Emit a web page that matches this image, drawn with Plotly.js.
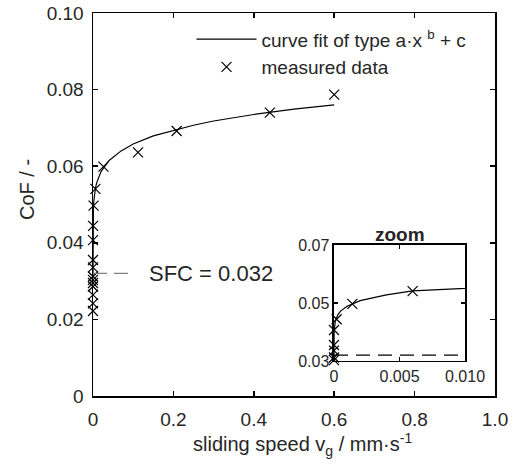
<!DOCTYPE html>
<html><head><meta charset="utf-8">
<script src="https://cdn.plot.ly/plotly-3.0.1.min.js"></script>
<style>html,body{margin:0;padding:0;background:#fff}#chart{width:515px;height:471px}</style>
</head><body><div id="chart"></div><script>
// measured data (sliding speed in mm/s, CoF)
const measX = [0, 0, 0, 0, 0, 0, 0, 0, 0, 0, 0.0002, 0.0014, 0.006, 0.026, 0.112, 0.208, 0.44, 0.60];
const measY = [0.0222, 0.0242, 0.0264, 0.0286, 0.0295, 0.0303, 0.0312, 0.0336, 0.0355, 0.0407, 0.0444, 0.0497, 0.0541, 0.0599, 0.0636, 0.0692, 0.0740, 0.0787];
// curve fit
const fitX = [0, 0.00001, 0.0001, 0.0003, 0.0005, 0.001, 0.002, 0.003, 0.004, 0.006, 0.008, 0.01, 0.02, 0.04, 0.07, 0.1, 0.15, 0.2, 0.25, 0.3, 0.4, 0.5, 0.6];
const fitY = [0.0311, 0.0402, 0.0438, 0.0460, 0.0472, 0.0489, 0.0508, 0.0519, 0.0528, 0.0542, 0.0551, 0.0559, 0.0586, 0.0615, 0.0640, 0.0658, 0.0679, 0.0694, 0.0707, 0.0718, 0.0735, 0.0749, 0.0760];
// static friction coefficient
const sfcValue = 0.032;
const sfcMainX = [0, 0.1];
const sfcZoomX = [0, 0.01];
// ticks
const xTickVals = [0, 0.2, 0.4, 0.6, 0.8, 1.0];
const xTickText = ['0', '0.2', '0.4', '0.6', '0.8', '1.0'];
const yTickVals = [0, 0.02, 0.04, 0.06, 0.08, 0.10];
const yTickText = ['0', '0.02', '0.04', '0.06', '0.08', '0.10'];
const zxTickVals = [0, 0.005, 0.010];
const zxTickText = ['0', '0.005', '0.010'];
const zyTickVals = [0.03, 0.05, 0.07];
const zyTickText = ['0.03', '0.05', '0.07'];

const zoomMax = 0.01;
const zIdx = measX.map((v, i) => i).filter(i => measX[i] <= zoomMax);
const zMeasX = zIdx.map(i => measX[i]);
const zMeasY = zIdx.map(i => measY[i]);

const txt = '#262626';
const FONT = 'Liberation Sans, Arial, sans-serif';
const marker = {symbol: 'x-thin-open', size: 10, color: '#000', line: {color: '#000', width: 1.2}};

const traces = [
  {x: fitX, y: fitY, mode: 'lines', name: 'curve fit of type a·x <sup>b</sup> + c', line: {color: '#000', width: 1.2}, xaxis: 'x', yaxis: 'y'},
  {x: measX, y: measY, mode: 'markers', name: 'measured data', marker: marker, cliponaxis: false, xaxis: 'x', yaxis: 'y'},
  {x: sfcMainX, y: [sfcValue, sfcValue], mode: 'lines', showlegend: false, line: {color: '#808080', width: 1.2, dash: '14px,7px'}, xaxis: 'x', yaxis: 'y'},
  {x: fitX, y: fitY, mode: 'lines', showlegend: false, line: {color: '#000', width: 1.2}, xaxis: 'x2', yaxis: 'y2'},
  {x: zMeasX, y: zMeasY, mode: 'markers', showlegend: false, marker: marker, cliponaxis: false, xaxis: 'x2', yaxis: 'y2'},
  {x: sfcZoomX, y: [sfcValue, sfcValue], mode: 'lines', showlegend: false, line: {color: '#000', width: 1.2, dash: '14px,8px'}, xaxis: 'x2', yaxis: 'y2'}
];

const axBase = {showline: true, mirror: 'ticks', linecolor: '#000', linewidth: 1.5, ticks: 'inside', tickcolor: '#000', tickwidth: 1.5, showgrid: false, zeroline: false, fixedrange: true};

const layout = {
  width: 515, height: 471,
  margin: {l: 93, r: 20, t: 13, b: 75},
  paper_bgcolor: '#fff', plot_bgcolor: '#fff',
  font: {family: FONT, color: txt, size: 19},
  showlegend: true,
  legend: {x: 0.245, y: 0.981, xanchor: 'left', yanchor: 'top', bgcolor: 'rgba(0,0,0,0)', borderwidth: 0, font: {size: 19, color: txt}, itemwidth: 60, tracegroupgap: 0},
  xaxis: Object.assign({}, axBase, {domain: [0, 1], range: [0, 1.0], tickvals: xTickVals, ticktext: xTickText, ticklen: 5, tickfont: {size: 19, color: txt}, ticklabelstandoff: 6, anchor: 'y'}),
  yaxis: Object.assign({}, axBase, {domain: [0, 1], range: [0, 0.10], tickvals: yTickVals, ticktext: yTickText, ticklen: 5, tickfont: {size: 19, color: txt}, ticklabelstandoff: 4, anchor: 'x'}),
  xaxis2: Object.assign({}, axBase, {domain: [0.5995, 0.9254], range: [0, 0.010], tickvals: zxTickVals, ticktext: zxTickText, ticklen: 4, tickfont: {size: 16, color: txt}, anchor: 'y2'}),
  yaxis2: Object.assign({}, axBase, {domain: [0.0914, 0.3943], range: [0.03, 0.07], tickvals: zyTickVals, ticktext: zyTickText, ticklen: 4, tickfont: {size: 16, color: txt}, anchor: 'x2'}),
  annotations: [
    {text: 'CoF / -', xref: 'paper', yref: 'paper', x: -0.164, y: 0.538, textangle: -90, showarrow: false, font: {size: 20, color: txt}, xanchor: 'center', yanchor: 'middle'},
    {text: 'sliding speed v<sub>g</sub> / mm·s<sup>-1</sup>', xref: 'paper', yref: 'paper', x: 0.52, y: -0.126, showarrow: false, font: {size: 20, color: txt}, xanchor: 'center', yanchor: 'middle'},
    {text: 'SFC = ' + sfcValue.toFixed(3), xref: 'x', yref: 'y', x: 0.134, y: sfcValue, showarrow: false, font: {size: 22, color: txt}, xanchor: 'left', yanchor: 'middle'},
    {text: '<b>zoom</b>', xref: 'x2 domain', yref: 'y2 domain', x: 0.5, y: 1, showarrow: false, font: {size: 19, color: txt}, xanchor: 'center', yanchor: 'bottom', yshift: -2}
  ]
};

Plotly.newPlot('chart', traces, layout, {displayModeBar: false, staticPlot: true});
</script></body></html>
